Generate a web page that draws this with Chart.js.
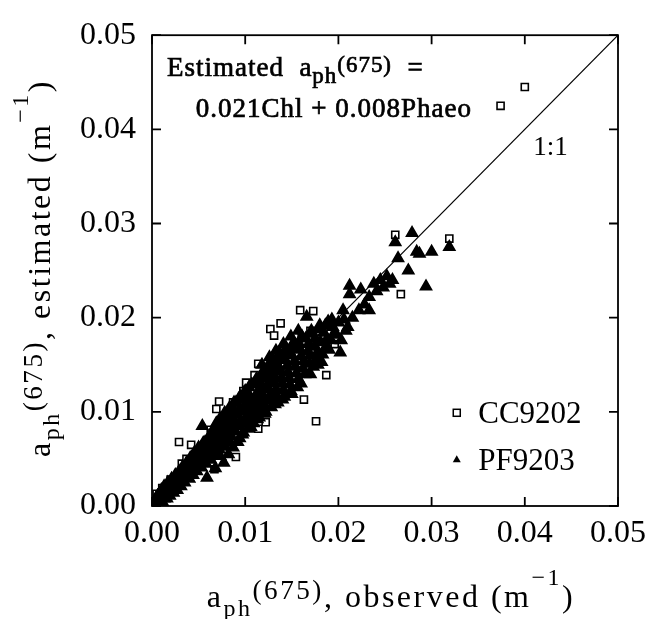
<!DOCTYPE html>
<html>
<head>
<meta charset="utf-8">
<script src="https://cdn.jsdelivr.net/npm/chart.js@4.4.1/dist/chart.umd.min.js"></script>
<style>
  html, body { margin: 0; padding: 0; background: #fff; }
  canvas { display: block; }
</style>
</head>
<body>
<canvas id="scatter" width="654" height="619"></canvas>
<script>
// CC9202 cruise (open squares)
var ccX = [0.0005, 0.0011, 0.0015, 0.0020, 0.0024, 0.0029, 0.0032, 0.0035, 0.0037, 0.0042,
           0.0046, 0.0057, 0.0063, 0.0065, 0.0067, 0.0069, 0.0072, 0.0078, 0.0085, 0.0087,
           0.0090, 0.0095, 0.0098, 0.0101, 0.0105, 0.0110, 0.0110, 0.0114, 0.0114, 0.0120,
           0.0122, 0.0127, 0.0131, 0.0132, 0.0136, 0.0138, 0.0146, 0.0153, 0.0156, 0.0159,
           0.0163, 0.0170, 0.0173, 0.0176, 0.0187, 0.0196, 0.0261, 0.0267, 0.0319, 0.0374,
           0.0400];
var ccY = [0.0013, 0.0019, 0.0020, 0.0028, 0.0030, 0.0068, 0.0045, 0.0036, 0.0050, 0.0065,
           0.0052, 0.0064, 0.0081, 0.0073, 0.0039, 0.0103, 0.0111, 0.0088, 0.0096, 0.0110,
           0.0052, 0.0106, 0.0122, 0.0131, 0.0117, 0.0139, 0.0123, 0.0151, 0.0082, 0.0136,
           0.0089, 0.0188, 0.0181, 0.0148, 0.0160, 0.0194, 0.0157, 0.0180, 0.0170, 0.0208,
           0.0113, 0.0186, 0.0207, 0.0090, 0.0139, 0.0172, 0.0288, 0.0225, 0.0284, 0.0425,
           0.0445];

// PF9203 cruise (filled triangles) - the dense cloud near the 1:1 line
var pfX = [0.0002, 0.0004, 0.0005, 0.0007, 0.0008, 0.0010, 0.0011, 0.0012, 0.0013, 0.0014,
           0.0016, 0.0017, 0.0018, 0.0019, 0.0021, 0.0022, 0.0023, 0.0025, 0.0026, 0.0027,
           0.0029, 0.0030, 0.0031, 0.0033, 0.0034, 0.0035, 0.0037, 0.0038, 0.0040, 0.0041,
           0.0042, 0.0044, 0.0045, 0.0047, 0.0048, 0.0050, 0.0051, 0.0053, 0.0054, 0.0055,
           0.0056, 0.0058, 0.0059, 0.0060, 0.0061, 0.0063, 0.0064, 0.0065, 0.0067, 0.0068,
           0.0069, 0.0070, 0.0072, 0.0073, 0.0074, 0.0076, 0.0077, 0.0078, 0.0079, 0.0081,
           0.0082, 0.0083, 0.0084, 0.0086, 0.0087, 0.0088, 0.0089, 0.0091, 0.0092, 0.0093,
           0.0094, 0.0096, 0.0097, 0.0099, 0.0100, 0.0102, 0.0103, 0.0104, 0.0106, 0.0108,
           0.0109, 0.0111, 0.0112, 0.0114, 0.0115, 0.0117, 0.0118, 0.0120, 0.0122, 0.0123,
           0.0125, 0.0127, 0.0128, 0.0130, 0.0131, 0.0133, 0.0135, 0.0137, 0.0138, 0.0140,
           0.0142, 0.0144, 0.0145, 0.0147, 0.0149, 0.0151, 0.0153, 0.0155, 0.0156, 0.0158,
           0.0160, 0.0162, 0.0165, 0.0166, 0.0167, 0.0169, 0.0172, 0.0174, 0.0176, 0.0179,
           0.0181, 0.0183, 0.0186, 0.0188, 0.0190, 0.0193, 0.0195, 0.0202, 0.0205, 0.0208,
           0.0212, 0.0212, 0.0215, 0.0222, 0.0224, 0.0228, 0.0233, 0.0233, 0.0238, 0.0241,
           0.0245, 0.0248, 0.0252, 0.0255, 0.0258, 0.0261, 0.0264, 0.0275, 0.0279, 0.0284,
           0.0287, 0.0294, 0.0300, 0.0319,
           0.0006, 0.0009, 0.0013, 0.0015, 0.0017, 0.0020, 0.0021, 0.0024, 0.0027, 0.0028,
           0.0031, 0.0032, 0.0035, 0.0036, 0.0039, 0.0040, 0.0043, 0.0044, 0.0046, 0.0048,
           0.0050, 0.0052, 0.0053, 0.0055, 0.0057, 0.0058, 0.0060, 0.0062, 0.0063, 0.0064,
           0.0066, 0.0067, 0.0068, 0.0070, 0.0071, 0.0072, 0.0073, 0.0075, 0.0076, 0.0077,
           0.0079, 0.0080, 0.0081, 0.0082, 0.0083, 0.0085, 0.0086, 0.0087, 0.0089, 0.0090,
           0.0091, 0.0092, 0.0094, 0.0095, 0.0096, 0.0098, 0.0100, 0.0101, 0.0102, 0.0104,
           0.0105, 0.0107, 0.0108, 0.0110, 0.0112, 0.0113, 0.0115, 0.0116, 0.0118, 0.0119,
           0.0121, 0.0123, 0.0124, 0.0125, 0.0127, 0.0129, 0.0130, 0.0132, 0.0134, 0.0136,
           0.0137, 0.0139, 0.0141, 0.0143, 0.0144, 0.0146, 0.0148, 0.0150, 0.0152, 0.0154,
           0.0157, 0.0159, 0.0161, 0.0163, 0.0164, 0.0168, 0.0170, 0.0171, 0.0173, 0.0175,
           0.0178, 0.0180, 0.0182, 0.0184, 0.0187, 0.0189, 0.0192, 0.0194, 0.0198, 0.0200,
           0.0203, 0.0206, 0.0210,
           0.0098, 0.0106, 0.0113, 0.0121, 0.0132, 0.0140, 0.0150, 0.0160, 0.0170, 0.0178,
           0.0118, 0.0126, 0.0133, 0.0141, 0.0149, 0.0157];
var pfY = [0.0003, 0.0008, 0.0002, 0.0012, 0.0005, 0.0017, 0.0009, 0.0003, 0.0021, 0.0014,
           0.0008, 0.0025, 0.0018, 0.0011, 0.0029, 0.0022, 0.0014, 0.0033, 0.0026, 0.0017,
           0.0037, 0.0030, 0.0021, 0.0042, 0.0034, 0.0025, 0.0046, 0.0038, 0.0029, 0.0051,
           0.0042, 0.0033, 0.0056, 0.0047, 0.0037, 0.0062, 0.0052, 0.0041, 0.0085, 0.0067,
           0.0056, 0.0045, 0.0030, 0.0071, 0.0061, 0.0049, 0.0078, 0.0066, 0.0053, 0.0040,
           0.0088, 0.0072, 0.0060, 0.0093, 0.0080, 0.0067, 0.0046, 0.0099, 0.0085, 0.0072,
           0.0055, 0.0104, 0.0091, 0.0079, 0.0062, 0.0110, 0.0097, 0.0085, 0.0068, 0.0114,
           0.0102, 0.0090, 0.0076, 0.0120, 0.0108, 0.0096, 0.0082, 0.0126, 0.0113, 0.0101,
           0.0088, 0.0132, 0.0119, 0.0107, 0.0094, 0.0138, 0.0125, 0.0112, 0.0100, 0.0144,
           0.0131, 0.0118, 0.0105, 0.0150, 0.0137, 0.0124, 0.0110, 0.0156, 0.0143, 0.0130,
           0.0116, 0.0162, 0.0149, 0.0136, 0.0122, 0.0167, 0.0154, 0.0141, 0.0126, 0.0172,
           0.0159, 0.0146, 0.0178, 0.0201, 0.0164, 0.0151, 0.0183, 0.0169, 0.0156, 0.0188,
           0.0174, 0.0161, 0.0192, 0.0178, 0.0166, 0.0198, 0.0183, 0.0163, 0.0208, 0.0186,
           0.0234, 0.0225, 0.0200, 0.0208, 0.0230, 0.0214, 0.0222, 0.0208, 0.0236, 0.0228,
           0.0240, 0.0232, 0.0244, 0.0236, 0.0240, 0.0280, 0.0263, 0.0250, 0.0290, 0.0270,
           0.0268, 0.0233, 0.0270, 0.0275,
           0.0011, 0.0006, 0.0008, 0.0019, 0.0013, 0.0016, 0.0024, 0.0020, 0.0028, 0.0022,
           0.0033, 0.0027, 0.0040, 0.0031, 0.0044, 0.0036, 0.0049, 0.0039, 0.0054, 0.0044,
           0.0057, 0.0048, 0.0063, 0.0051, 0.0068, 0.0058, 0.0052, 0.0074, 0.0064, 0.0056,
           0.0081, 0.0070, 0.0060, 0.0084, 0.0077, 0.0066, 0.0053, 0.0088, 0.0075, 0.0063,
           0.0094, 0.0081, 0.0068, 0.0100, 0.0087, 0.0074, 0.0105, 0.0092, 0.0080, 0.0110,
           0.0097, 0.0085, 0.0072, 0.0116, 0.0101, 0.0088, 0.0122, 0.0104, 0.0090, 0.0118,
           0.0096, 0.0129, 0.0109, 0.0095, 0.0135, 0.0114, 0.0101, 0.0130, 0.0141, 0.0118,
           0.0106, 0.0136, 0.0148, 0.0124, 0.0112, 0.0142, 0.0155, 0.0130, 0.0117, 0.0148,
           0.0162, 0.0136, 0.0123, 0.0155, 0.0168, 0.0142, 0.0129, 0.0160, 0.0174, 0.0148,
           0.0135, 0.0166, 0.0180, 0.0154, 0.0140, 0.0172, 0.0160, 0.0186, 0.0148, 0.0178,
           0.0164, 0.0192, 0.0153, 0.0184, 0.0170, 0.0196, 0.0176, 0.0190, 0.0182, 0.0195,
           0.0176, 0.0198, 0.0190,
           0.0078, 0.0084, 0.0092, 0.0098, 0.0108, 0.0113, 0.0119, 0.0130, 0.0140, 0.0150,
           0.0150, 0.0158, 0.0165, 0.0172, 0.0180, 0.0186];

// 1:1 line and axis range
var oneToOne = [0, 0.05];
var axisMin = 0, axisMax = 0.05, axisStep = 0.01;

var serif = '"Liberation Serif", "DejaVu Serif", serif';

function toPoints(xs, ys) {
    return xs.map(function (x, i) { return { x: x, y: ys[i] }; });
}

// draws text made of pieces: '' normal, 'sub', 'sup', 'raise'
function drawRich(ctx, parts, x, y, size, opts) {
    opts = opts || {};
    var spacing = opts.spacing || 0;
    var scale = { '': 1, sub: 0.75, sup: 0.75, raise: 0.85 };
    var shift = { '': 0, sub: 0.28, sup: -0.7, raise: -0.25 };
    if (opts.subScale) scale.sub = opts.subScale;
    if (opts.raiseShift !== undefined) shift.raise = opts.raiseShift;
    function fontFor(kind) { return (size * scale[kind]) + 'px ' + serif; }
    ctx.letterSpacing = spacing + 'px';
    var total = 0;
    parts.forEach(function (p) { ctx.font = fontFor(p[1]); total += ctx.measureText(p[0]).width; });
    var cx = opts.align === 'center' ? x - total / 2 : x;
    ctx.textAlign = 'left';
    ctx.textBaseline = 'alphabetic';
    parts.forEach(function (p) {
        ctx.font = fontFor(p[1]);
        var ty = y + shift[p[1]] * size;
        ctx.fillText(p[0], cx, ty);
        if (opts.heavy) {
            ctx.lineWidth = opts.heavy;
            ctx.strokeText(p[0], cx, ty);
        }
        cx += ctx.measureText(p[0]).width;
    });
    ctx.letterSpacing = '0px';
}

var decorations = {
    id: 'decorations',
    afterDraw: function (chart) {
        var ctx = chart.ctx;
        var area = chart.chartArea;
        var xs = chart.scales.x, ys = chart.scales.y;
        ctx.save();
        ctx.strokeStyle = '#000';
        ctx.fillStyle = '#000';
        ctx.lineWidth = 1.8;
        ctx.strokeRect(area.left, area.top, area.right - area.left, area.bottom - area.top);

        // inward ticks on all four sides
        var len = 9;
        ctx.beginPath();
        xs.ticks.forEach(function (t) {
            var px = xs.getPixelForValue(t.value);
            ctx.moveTo(px, area.bottom); ctx.lineTo(px, area.bottom - len);
            ctx.moveTo(px, area.top); ctx.lineTo(px, area.top + len);
        });
        ys.ticks.forEach(function (t) {
            var py = ys.getPixelForValue(t.value);
            ctx.moveTo(area.left, py); ctx.lineTo(area.left + len, py);
            ctx.moveTo(area.right, py); ctx.lineTo(area.right - len, py);
        });
        ctx.stroke();

        // axis titles
        drawRich(ctx, [['a', ''], ['ph', 'sub'], ['(675)', 'raise'], [', observed (m', ''], ['\u22121', 'sup'], [')', '']],
            391, 607, 32, { spacing: 2.5, align: 'center' });
        ctx.save();
        ctx.translate(50, 268);
        ctx.rotate(-Math.PI / 2);
        drawRich(ctx, [['a', ''], ['ph', 'sub'], ['(675)', 'raise'], [', estimated (m', ''], ['\u22121', 'sup'], [')', '']],
            0, 0, 32, { spacing: 2.5, align: 'center' });
        ctx.restore();

        // equation
        drawRich(ctx, [['Estimated  a', ''], ['ph', 'sub'], ['(675)', 'raise'], ['  =', '']],
            xs.getPixelForValue(0.0016), ys.getPixelForValue(0.0457), 27,
            { spacing: 1, heavy: 0.7, subScale: 0.85, raiseShift: -0.15 });
        drawRich(ctx, [['0.021Chl + 0.008Phaeo', '']],
            xs.getPixelForValue(0.0047), ys.getPixelForValue(0.0413), 27, { spacing: 1, heavy: 0.7 });

        // 1:1 label
        drawRich(ctx, [['1:1', '']], xs.getPixelForValue(0.0409), ys.getPixelForValue(0.0373), 27, {});

        // legend
        var lx = xs.getPixelForValue(0.0327);
        var tx = xs.getPixelForValue(0.0350);
        var y1 = ys.getPixelForValue(0.0099), y2 = ys.getPixelForValue(0.0049);
        ctx.lineWidth = 1.5;
        ctx.fillStyle = '#fff';
        ctx.fillRect(lx - 3.5, y1 - 3.5, 7, 7);
        ctx.strokeRect(lx - 3.5, y1 - 3.5, 7, 7);
        ctx.fillStyle = '#000';
        ctx.beginPath();
        ctx.moveTo(lx, y2 - 4.5); ctx.lineTo(lx + 4, y2 + 2.5); ctx.lineTo(lx - 4, y2 + 2.5);
        ctx.closePath();
        ctx.fill();
        drawRich(ctx, [['CC9202', '']], tx, y1 + 10, 31, {});
        drawRich(ctx, [['PF9203', '']], tx, y2 + 10, 31, {});
        ctx.restore();
    }
};

var ctx = document.getElementById('scatter').getContext('2d');
var scatterChart = new Chart(ctx, {
    type: 'scatter',
    data: {
        datasets: [{
            label: 'PF9203',
            data: toPoints(pfX, pfY),
            pointStyle: 'triangle',
            pointRadius: 6,
            backgroundColor: '#000',
            borderColor: '#000',
            borderWidth: 2,
            order: 0
        }, {
            label: 'CC9202',
            data: toPoints(ccX, ccY),
            pointStyle: 'rect',
            pointRadius: 5,
            backgroundColor: '#fff',
            borderColor: '#000',
            borderWidth: 1.6,
            order: 1
        }, {
            type: 'line',
            label: '1:1',
            data: toPoints(oneToOne, oneToOne),
            borderColor: '#000',
            borderWidth: 1.2,
            pointRadius: 0,
            fill: false,
            order: 2
        }]
    },
    options: {
        responsive: false,
        animation: false,
        events: [],
        layout: { padding: { top: 21, right: 27, left: 0, bottom: 0 } },
        plugins: {
            legend: { display: false },
            tooltip: { enabled: false }
        },
        scales: {
            x: {
                type: 'linear',
                min: axisMin,
                max: axisMax,
                afterFit: function (s) { s.height = 113; },
                grid: { display: false, drawTicks: false },
                border: { display: false },
                ticks: {
                    stepSize: axisStep,
                    padding: 8,
                    color: '#000',
                    font: { family: serif, size: 32 },
                    callback: function (v) { return v.toFixed(2); }
                }
            },
            y: {
                type: 'linear',
                min: axisMin,
                max: axisMax,
                afterFit: function (s) { s.width = 152; },
                grid: { display: false, drawTicks: false },
                border: { display: false },
                ticks: {
                    stepSize: axisStep,
                    padding: 16,
                    color: '#000',
                    font: { family: serif, size: 32 },
                    callback: function (v) { return v.toFixed(2); }
                }
            }
        }
    },
    plugins: [decorations]
});
</script>
</body>
</html>
